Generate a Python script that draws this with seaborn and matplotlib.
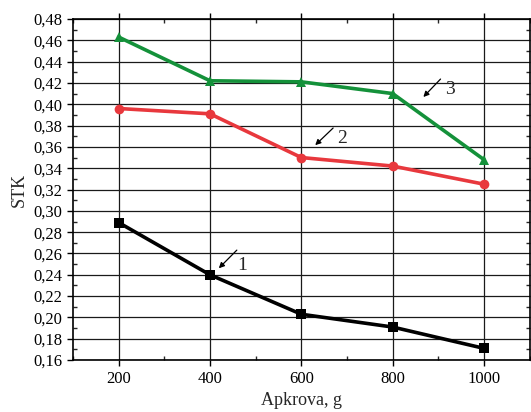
import matplotlib
matplotlib.use("Agg")
import matplotlib.pyplot as plt
from matplotlib.ticker import FuncFormatter, MultipleLocator
import pandas as pd
import seaborn as sns

# data
load_g = [200, 400, 600, 800, 1000]
stk_1 = [0.289, 0.240, 0.203, 0.191, 0.171]
stk_2 = [0.396, 0.391, 0.350, 0.342, 0.325]
stk_3 = [0.463, 0.422, 0.421, 0.410, 0.348]
curve_names = ["1", "2", "3"]

df = pd.DataFrame({
    "x": load_g * 3,
    "y": stk_1 + stk_2 + stk_3,
    "curve": [n for n in curve_names for _ in load_g],
})

sns.set_style("ticks")
plt.rcParams["font.family"] = ["Liberation Serif", "DejaVu Serif"]

fig = plt.figure(figsize=(5.31, 4.12), dpi=100)
ax = fig.add_axes([0.1375, 0.126, 0.86, 0.828])

palette = {"1": "#000000", "2": "#e8383d", "3": "#14913a"}
markers = {"1": "s", "2": "o", "3": "^"}
sns.lineplot(data=df, x="x", y="y", hue="curve", style="curve",
             palette=palette, markers=markers, dashes=False,
             linewidth=2.6, markersize=7, markeredgewidth=0,
             legend=False, ax=ax, zorder=3)

ax.set_xlim(100, 1100)
ax.set_ylim(0.16, 0.48)
ax.xaxis.set_major_locator(MultipleLocator(200))
ax.xaxis.set_minor_locator(MultipleLocator(100))
ax.yaxis.set_major_locator(MultipleLocator(0.02))
ax.yaxis.set_minor_locator(MultipleLocator(0.01))
ax.yaxis.set_major_formatter(FuncFormatter(lambda v, p: f"{v:.2f}".replace(".", ",")))

ax.grid(True, which="major", color="#1a1a1a", linewidth=0.9)
ax.set_axisbelow(True)
ax.tick_params(which="major", direction="out", length=4, width=1, labelsize=12,
               top=True, right=True, colors="black")
ax.tick_params(which="minor", direction="in", length=3, width=1, top=True, right=True)
for s in ax.spines.values():
    s.set_linewidth(1.2)
    s.set_color("black")

ax.set_xlabel("Apkrova, g", fontsize=13)
ax.set_ylabel("STK", fontsize=13)

# curve labels with arrows
arrows = [
    ("1", (415, 0.2443), (463, 0.265), (459, 0.249)),
    ("2", (626, 0.3598), (674, 0.3795), (679, 0.368)),
    ("3", (863, 0.4049), (909, 0.4255), (915, 0.414)),
]
for lab, tip, tail, txt in arrows:
    ax.annotate("", xy=tip, xytext=tail,
                arrowprops=dict(arrowstyle="-|>", color="black", lw=0.9,
                                mutation_scale=8))
    ax.text(txt[0], txt[1], lab, fontsize=14, va="center", ha="left")

fig.savefig("out.png", dpi=100)
